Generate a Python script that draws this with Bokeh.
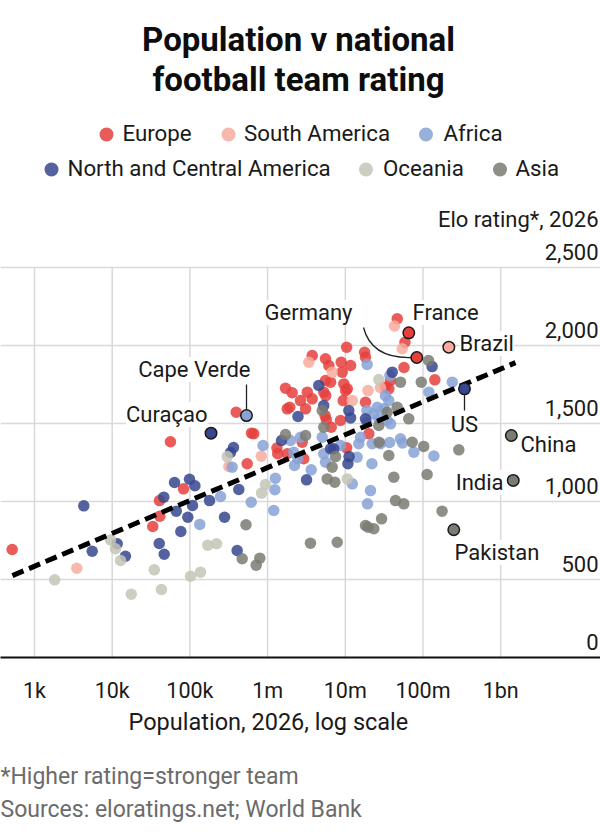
from bokeh.plotting import figure
from bokeh.models import Range1d, FixedTicker, Grid, Label, Title, ColumnDataSource
from bokeh.embed import file_html
from bokeh.resources import INLINE

FONT = "Roboto"
INK = "#1a1a1a"
GRID = "#d9d9d9"
NOTE = "#6b6b6b"

# ---------------- data ----------------
regions = ["Europe", "South America", "Africa", "North and Central America", "Oceania", "Asia"]
region_colors = ["#e5403c", "#f8ab9e", "#88a2d6", "#37468f", "#c4c5b7", "#7a7b72"]

europe_pop = [516, 3.33e4, 4.10e4, 4.06e4, 5.62e4, 8.27e4, 3.94e5, 6.21e5, 6.64e5, 5.46e5,
              1.32e6, 1.35e6, 1.79e6, 1.70e6, 2.07e6, 1.79e6, 1.93e6, 2.65e6, 3.24e6, 3.75e6,
              3.08e6, 3.75e6, 5.56e6, 6.14e6, 8.85e6, 1.17e7, 9.12e6, 1.04e7, 1.77e7, 1.82e7,
              5.56e6, 6.46e6, 9.57e6, 1.01e7, 1.06e7, 5.28e6, 5.60e6, 9.40e6, 1.82e7, 5.50e6,
              5.70e6, 8.67e6, 6.59e6, 2.01e7, 2.79e6, 1.04e7, 2.92e6, 4.66e7, 5.86e7, 5.69e7,
              1.42e8, 3.82e7, 3.63e7, 3.29e7]
europe_elo = [692, 840, 906, 1006, 1383, 1081, 1572, 1438, 1434, 1242,
              1343, 1306, 1306, 1726, 1697, 1594, 1604, 1647, 1701, 1658,
              1594, 1936, 1915, 1872, 1893, 1872, 1829, 1989, 1957, 1925,
              1776, 1765, 1754, 1711, 1722, 1701, 1679, 1647, 1636, 1551,
              1524, 1519, 1476, 1434, 1380, 1344, 1274, 2171, 2021, 1859,
              1780, 1776, 1722, 1733]

samerica_pop = [3.50e3, 3.17e5, 8.28e5, 3.39e6, 6.78e6, 1.23e7, 1.96e7, 2.84e7, 4.30e7, 5.40e7]
samerica_elo = [572, 1224, 1290, 1893, 1829, 1647, 1711, 1729, 2125, 1979]

africa_pop = [8.73e5, 1.97e6, 3.50e5, 2.22e6, 2.45e6, 1.26e6, 1.24e6, 2.48e5, 6.15e5, 1.20e6,
              1.34e5, 1.91e7, 1.89e7, 2.17e6, 2.65e6, 5.05e6, 8.67e6, 1.49e7, 1.57e7, 1.42e7,
              5.28e6, 5.56e6, 3.64e6, 1.23e7, 1.93e7, 3.29e7, 3.63e7, 2.58e7, 3.13e7, 2.33e7,
              2.70e7, 1.90e7, 3.46e7, 3.82e7, 2.22e7, 2.84e7, 3.71e7, 5.13e7, 5.45e7, 7.62e7,
              1.38e8, 2.20e7, 2.11e7, 1.19e8, 2.38e8, 3.75e7]
africa_elo = [1359, 1391, 1220, 1231, 1274, 1149, 1075, 1032, 995, 942,
              853, 1878, 1508, 1316, 1412, 1412, 1359, 1370, 1412, 1284,
              1306, 1252, 1203, 1113, 985, 1679, 1647, 1604, 1594, 1562,
              1530, 1583, 1519, 1498, 1370, 1370, 1378, 1402, 1375, 1316,
              1292, 1242, 1070, 1701, 1765, 1808]

ncamerica_pop = [4.31e3, 5.53e3, 6.34e4, 9.88e4, 1.16e5, 4.61e4, 6.67e4, 9.40e4, 7.64e4, 1.08e5,
                 1.16e4, 1.48e4, 4.03e4, 4.67e4, 2.46e6, 1.51e6, 3.33e5, 3.64e5, 4.26e5, 1.79e5,
                 2.79e5, 4.06e5, 4.56e6, 5.28e6, 1.11e7, 1.17e7, 6.46e6, 7.11e6, 1.12e7, 1.08e7,
                 3.17e6, 1.31e8, 4.02e7, 1.82e7]
ncamerica_elo = [972, 681, 1122, 1143, 1101, 1028, 938, 899, 808, 974,
                 729, 649, 731, 662, 1545, 1391, 1314, 1346, 1077, 1006,
                 899, 686, 1744, 1615, 1583, 1536, 1338, 1338, 1288, 1242,
                 1139, 1865, 1829, 1530]

oceania_pop = [1.82e3, 9.51e3, 1.10e4, 1.28e4, 3.48e4, 1.76e4, 4.31e4, 1.02e5, 1.37e5, 1.70e5,
               2.20e5, 3.02e5, 9.40e5, 8.36e5, 1.06e7, 2.70e7]
oceania_elo = [498, 754, 697, 622, 562, 406, 436, 521, 547, 720,
               729, 1288, 1109, 1054, 1145, 1782]

asia_pop = [5.27e5, 4.71e5, 7.94e5, 7.13e5, 1.70e6, 3.08e6, 5.05e6, 5.28e6, 7.48e6, 6.78e6,
            5.85e6, 7.33e6, 1.82e7, 3.56e6, 7.87e6, 1.18e8, 9.51e7, 5.13e7, 3.46e7, 4.66e7,
            6.56e7, 2.70e7, 2.72e7, 7.26e7, 1.02e8, 3.63e7, 1.13e8, 4.21e7, 4.43e7, 5.66e7,
            1.76e8, 2.93e7, 2.33e7, 1.97e7, 2.89e8]
asia_elo = [851, 633, 637, 592, 1429, 1423, 1583, 1476, 1288, 1220,
            1145, 1124, 846, 733, 739, 1904, 1765, 1765, 1572, 1604,
            1530, 1487, 1380, 1380, 1353, 1295, 1173, 1156, 1006, 985,
            938, 889, 825, 835, 1331]

highlight_names = ["Germany", "France", "Brazil", "US", "China", "India", "Pakistan", "Cape Verde", "Curaçao"]
highlight_region = ["Europe", "Europe", "South America", "North and Central America", "Asia", "Asia", "Asia",
                    "Africa", "North and Central America"]
highlight_pop = [8.32e7, 6.56e7, 2.15e8, 3.42e8, 1.37e9, 1.45e9, 2.49e8, 5.35e5, 1.87e5]
highlight_elo = [1923, 2081, 1989, 1722, 1423, 1135, 819, 1551, 1438]

trend_pop = [520, 1.55e9]
trend_elo = [525, 1890]

x_ticks = [1e3, 1e4, 1e5, 1e6, 1e7, 1e8, 1e9]
x_tick_labels = ["1k", "10k", "100k", "1m", "10m", "100m", "1bn"]
y_ticks = [0, 500, 1000, 1500, 2000, 2500]
y_tick_labels = ["0", "500", "1,000", "1,500", "2,000", "2,500"]

title_lines = ["Population v national", "football team rating"]
x_title = "Population, 2026, log scale"
y_title = "Elo rating*, 2026"
footnotes = ["*Higher rating=stronger team", "Sources: eloratings.net; World Bank"]

# ---------------- layout helpers (screen px -> data) ----------------
W, H = 600, 833
FRAME_BOTTOM_PX = 657
PX_PER_DECADE = 77.7
LOG_X0 = 3 - 34 / PX_PER_DECADE
ELO_PER_PX = 500 / 78.0
BASE_FIX = 9  # label baseline correction, px


def X(px):
    return 10 ** (LOG_X0 + px / PX_PER_DECADE)


def Y(py):
    return (FRAME_BOTTOM_PX - py) * ELO_PER_PX


p = figure(width=W, height=H, x_axis_type="log",
           x_range=Range1d(X(0), X(W)), y_range=Range1d(Y(FRAME_BOTTOM_PX), Y(0)),
           y_axis_location=None, toolbar_location=None, output_backend="svg",
           min_border_left=0, min_border_right=0, min_border_top=0, min_border_bottom=H - FRAME_BOTTOM_PX)
p.outline_line_color = None
p.background_fill_color = "white"
p.border_fill_color = "white"
for g in p.grid:
    g.visible = False

# grid
p.add_layout(Grid(dimension=1, ticker=FixedTicker(ticks=y_ticks[1:]),
                  grid_line_color=GRID, grid_line_width=1.5))
p.segment(x0=x_ticks, y0=[y_ticks[0]] * len(x_ticks), x1=x_ticks, y1=[y_ticks[-1]] * len(x_ticks),
          line_color=GRID, line_width=1.5, level="underlay")

# x axis (tick labels only)
ax = p.xaxis[0]
ax.ticker = FixedTicker(ticks=x_ticks)
ax.major_label_overrides = {t: s for t, s in zip(x_ticks, x_tick_labels)}
ax.major_tick_line_color = None
ax.minor_tick_line_color = None
ax.axis_line_color = "#111111"
ax.axis_line_width = 2.2
ax.major_label_text_font = FONT
ax.major_label_text_font_size = "21.5px"
ax.major_label_text_color = INK
ax.major_label_standoff = 14

# below-frame texts: x-axis title, spacer, footnotes
below_items = [
    (x_title, "23.5px", INK, 128, 0),
    (" ", "10px", INK, 0, 10),
    (footnotes[0], "23px", NOTE, 0, 4),
    (footnotes[1], "23px", NOTE, 0, 5),
]
for txt, fs, colr, off, so in below_items:
    p.add_layout(Title(text=txt, align="left", offset=off, text_font=FONT, text_font_size=fs,
                       text_color=colr, text_font_style="normal", standoff=so), "below")

# points
color_of = dict(zip(regions, region_colors))
pops, elos, cols = [], [], []
for reg, pp, ee in [("Europe", europe_pop, europe_elo), ("South America", samerica_pop, samerica_elo),
                    ("Africa", africa_pop, africa_elo), ("North and Central America", ncamerica_pop, ncamerica_elo),
                    ("Oceania", oceania_pop, oceania_elo), ("Asia", asia_pop, asia_elo)]:
    pops += pp
    elos += ee
    cols += [color_of[reg]] * len(pp)
src = ColumnDataSource(dict(pop=pops, elo=elos, color=cols))
p.scatter("pop", "elo", source=src, size=11.5, fill_color="color", fill_alpha=0.85, line_color=None)

# trend line
p.line(trend_pop, trend_elo, line_color="black", line_width=5, line_dash="12 6")

# highlighted
hsrc = ColumnDataSource(dict(pop=highlight_pop, elo=highlight_elo,
                             color=[color_of[r] for r in highlight_region]))
p.scatter("pop", "elo", source=hsrc, size=11.5, fill_color="color", fill_alpha=1.0,
          line_color="#1a1a1a", line_width=1.5)


def lbl(text, px, py, align="left", size="22px", color=INK, style="normal", bg=None, fix=BASE_FIX):
    p.add_layout(Label(x=X(px), y=Y(py - fix), text=text, text_align=align, text_baseline="alphabetic",
                       text_font=FONT, text_font_size=size, text_color=color, text_font_style=style,
                       background_fill_color=bg))


# leader lines
p.segment(x0=[X(246), X(464)], y0=[Y(384), Y(394)], x1=[X(246), X(464)], y1=[Y(409.5), Y(410)],
          line_color="#222222", line_width=1.3)
p.quadratic(x0=[X(363)], y0=[Y(327)], x1=[X(410.5)], y1=[Y(357)], cx=[X(371)], cy=[Y(358)],
            line_color="#222222", line_width=1.3)

# country labels (px anchor, baseline px, align)
label_layout = {
    "Germany": (352, 321, "right"), "France": (412, 321, "left"), "Brazil": (459, 352, "left"),
    "US": (464, 433, "center"), "China": (520, 453, "left"), "India": (503, 491, "right"),
    "Pakistan": (454, 561, "left"), "Cape Verde": (250, 378, "right"), "Curaçao": (207, 423, "right"),
}
for name in highlight_names:
    px, py, al = label_layout[name]
    lbl(name, px, py, align=al, bg="white")

# y tick labels (sit just above their gridline)
for v, s in zip(y_ticks, y_tick_labels):
    gy = FRAME_BOTTOM_PX - v / ELO_PER_PX
    lbl(s, 598, gy - 6.5, align="right")
lbl(y_title, 598, 228, align="right")

# title
for line, base in zip(title_lines, [49, 89]):
    lbl(line, 298, base, align="center", size="33px", color="#0d0d0d", style="bold", fix=10)

# legend
legend_dot_px = [106, 228, 425.5, 51, 365.5, 499.5]
legend_text_px = [122, 243.5, 443, 67, 382.5, 515]
legend_row_py = [134, 134, 134, 169, 169, 169]
p.scatter([X(v) for v in legend_dot_px], [Y(v) for v in legend_row_py], size=14,
          fill_color=region_colors, fill_alpha=0.85, line_color=None)
for name, tx, ty in zip(regions, legend_text_px, legend_row_py):
    lbl(name, tx, ty + 7.5, align="left", size="22.3px")

open("out.html", "w").write(file_html(p, INLINE))
